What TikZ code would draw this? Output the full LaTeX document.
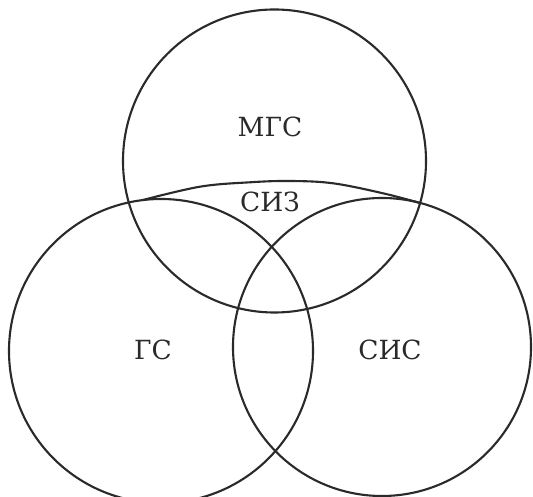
\documentclass[tikz,border=0pt]{standalone}
\usepackage{fontspec}
\setmainfont{DejaVu Serif}
\usepackage{tikz}
\usetikzlibrary{positioning}
\definecolor{ink}{HTML}{2A2A2A}

\begin{document}
\begin{tikzpicture}[
  ring/.style={draw=ink, line width=1.2pt},
  tag/.style={font=\fontsize{15}{18}\selectfont, text=ink, inner sep=0pt}
]
  \clip (0,0) rectangle (10.66,9.94);

  \coordinate (mgs) at (5.49,6.72);
  \coordinate (gs)  at (3.22,2.92);
  \coordinate (sis) at (7.64,3.00);

  \draw[ring] (mgs) circle (3.03);
  \draw[ring] (gs)  circle (3.04);
  \draw[ring] (sis) circle (2.98);

  % cap over the two lower circles
  \coordinate (capL) at (2.86,5.94);
  \coordinate (capR) at (8.40,5.88);
  \draw[ring] plot[smooth, tension=0.6] coordinates
    {(capL) (4.0,6.206) (5.0,6.294) (5.8,6.32) (6.66,6.274) (7.66,6.074) (capR)};

  \node[tag] (mgsT) at (5.40,7.40) {МГС};
  \node[tag] (sizT) at (5.40,5.90) {СИЗ};
  \node[tag] (gsT)  at (3.06,2.94) {ГС};
  \node[tag] (sisT) at (7.80,2.94) {СИС};
\end{tikzpicture}
\end{document}
